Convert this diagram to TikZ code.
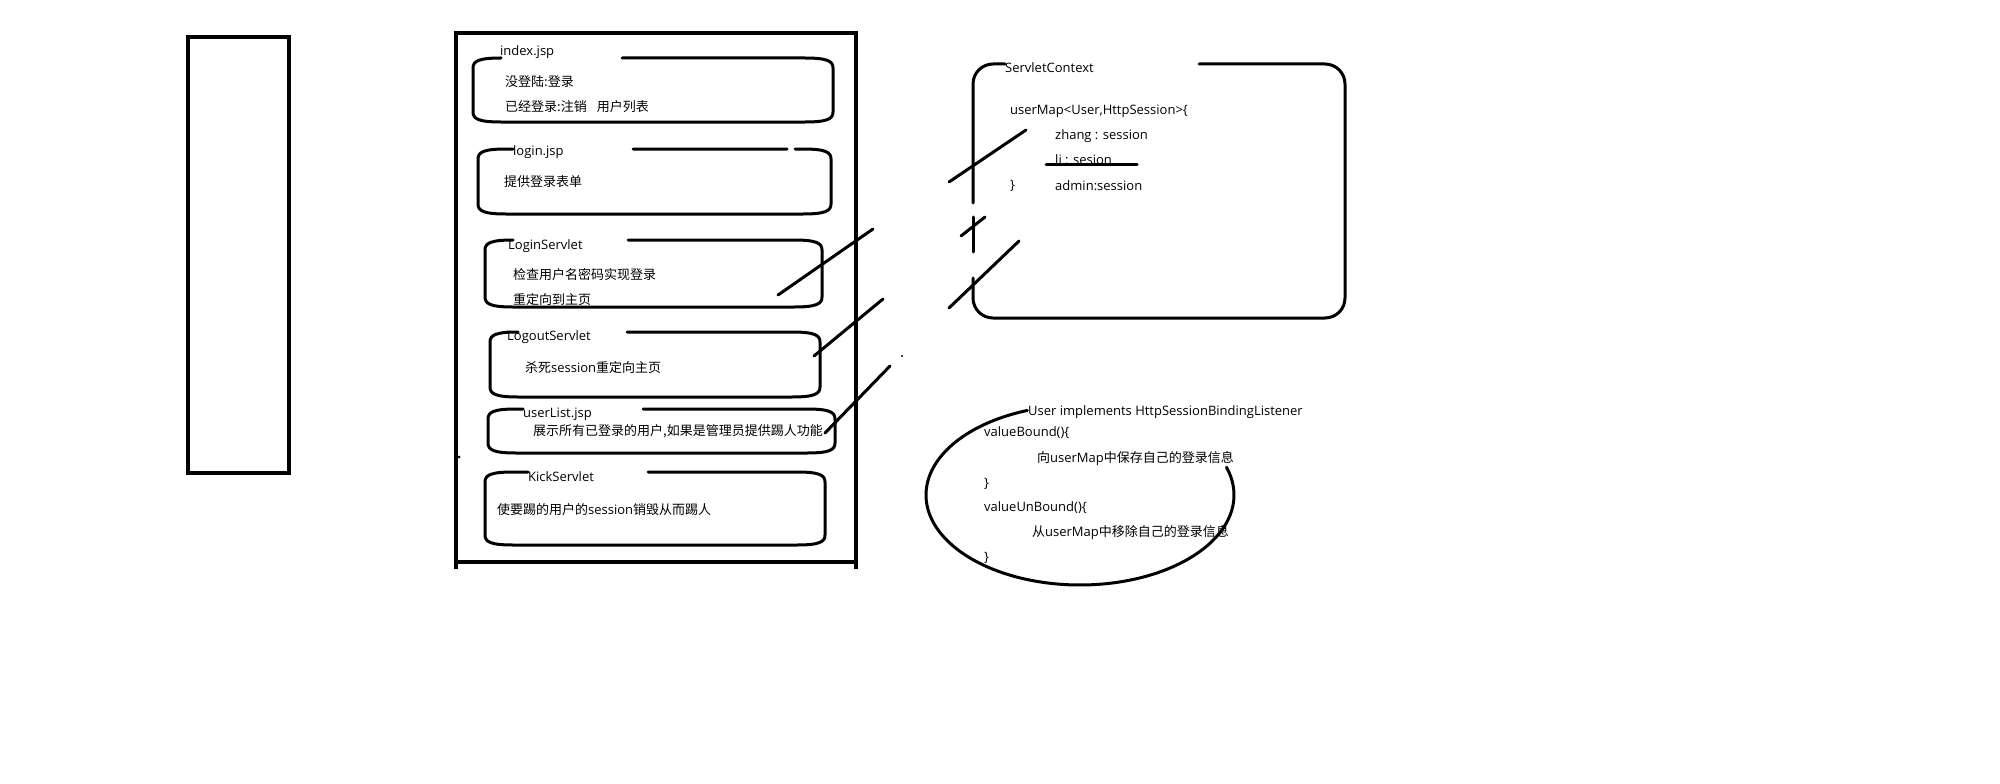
\documentclass[tikz,border=0pt]{standalone}
\usepackage{fontspec}
\setmainfont{Open Sans}
\newfontfamily\zhfont{Noto Sans CJK SC}
\newcommand{\zh}[1]{{\zhfont #1}}
\tikzset{
  sk diagram/.style={x=1pt, y=-1pt, font=\fontsize{13}{15}\selectfont,
    line cap=round, line join=round},
  sk line/.style={draw=black, line width=3pt},
  sk frame/.style={draw=black, line width=3.5pt, line cap=rect, line join=miter},
  sk text/.style={anchor=west, inner sep=0pt}
}
\begin{document}
\begin{tikzpicture}[sk diagram]
\useasboundingbox (0,0) rectangle (2000,784);
% left column and page frame
\draw[sk frame] (188,37) rectangle (289,473);
\draw[sk frame] (456,567) -- (456,33) -- (856,33) -- (856,567);
\draw[sk frame] (456,562) -- (853,562);
\fill (459,457) circle (1.5);
% the six pages / servlets
\foreach \l/\t/\r/\b/\lx/\gx/\ms/\me/\ty/\nm/\title in {
  473/58/833/122/500/622/700/700/52/index/index.jsp,
  478/149/831/214/513/633/787/795/152/login/login.jsp,
  485/240/822/307/508/628/700/700/246/lgin/LoginServlet,
  490/332/820/397/507/627/700/700/337/lgout/LogoutServlet,
  488/409/835/453/523/643/700/700/414/ulist/userList.jsp,
  485/472/825/545/528/648/700/700/477/kick/KickServlet}{
  \node[sk text] (\nm) at (\lx,\ty) {\title};
  \draw[sk line] (\lx,\t) -- (\l+28,\t)
    .. controls (\l+6,\t) and (\l,\t+3) .. (\l,\t+10) -- (\l,\b-10)
    .. controls (\l,\b-3) and (\l+6,\b) .. (\l+28,\b) -- (\r-28,\b)
    .. controls (\r-6,\b) and (\r,\b-3) .. (\r,\b-10) -- (\r,\t+10)
    .. controls (\r,\t+3) and (\r-6,\t) .. (\r-28,\t) -- (\me,\t)
    (\ms,\t) -- (\gx,\t);
}
\node[sk text] (idx1) at (505,82) {\zh{没登陆:登录}};
\node[sk text] (idx2) at (505,107) {\zh{已经登录:注销}\hspace{10pt}\zh{用户列表}};
\node[sk text] (login1) at (504,182) {\zh{提供登录表单}};
\node[sk text] (lgin1) at (513,275) {\zh{检查用户名密码实现登录}};
\node[sk text] (lgin2) at (513,300) {\zh{重定向到主页}};
\node[sk text] (lgout1) at (525,368) {\zh{杀死}session\zh{重定向主页}};
\node[sk text] (ulist1) at (533,431) {\zh{展示所有已登录的用户,如果是管理员提供踢人功能}};
\node[sk text] (kick1) at (497,510) {\zh{使要踢的用户的}session\zh{销毁从而踢人}};
% ServletContext
\node[sk text] (ctx) at (1005,68) {ServletContext};
\draw[sk line, rounded corners=20pt] (ctx.west |- 0,64) -- (973,64) -- (973,203);
\draw[sk line] (973,217) -- (973,252);
\draw[sk line, rounded corners=20pt] (973,278) -- (973,318) -- (1345,318)
  -- (1345,64) -- (1199,64);
\node[sk text] (umap) at (1010,111) {userMap<User,HttpSession>\{};
\node[sk text] (zhang) at (1055,136) {zhang : session};
\node[sk text] (li) at (1055,160) {li : sesion};
\node[sk text] (uclose) at (1010,186) {\}};
\node[sk text] (admin) at (1055,186) {admin:session};
\draw[sk line] (li.west |- 0,164) ++(-9,0) -- (1137,164);
% strokes from the servlets to the map
\coordinate (lginA) at (778,295);  \coordinate (lginB) at (873,229);
\coordinate (lgoutA) at (814,356); \coordinate (lgoutB) at (883,299);
\coordinate (ulistA) at (825,433); \coordinate (ulistB) at (890,366);
\coordinate (ctxA1) at (949,182);  \coordinate (ctxA2) at (1026,130);
\coordinate (ctxB1) at (961,236);  \coordinate (ctxB2) at (985,217);
\coordinate (ctxC1) at (949,308);  \coordinate (ctxC2) at (1019,241);
\draw[sk line] (lginA) -- (lginB);
\draw[sk line] (lgoutA) -- (lgoutB);
\draw[sk line] (ulistA) -- (ulistB);
\fill (902,356) circle (1.2);
\draw[sk line] (ctxA1) -- (ctxA2);
\draw[sk line] (ctxB1) -- (ctxB2);
\draw[sk line] (ctxC1) -- (ctxC2);
% User as listener
\node[sk text] (user) at (1028,412) {User implements HttpSessionBindingListener};
\draw[sk line] plot[domain=110:378, samples=80, smooth]
  ({1080+154*cos(\x)}, {495-90*sin(\x)});
\node[sk text] (vb) at (984,433) {valueBound()\{};
\node[sk text] (vb1) at (1037,459) {\zh{向}userMap\zh{中保存自己的登录信息}};
\node[sk text] (vbend) at (984,484) {\}};
\node[sk text] (vu) at (984,508) {valueUnBound()\{};
\node[sk text] (vu1) at (1032,533) {\zh{从}userMap\zh{中移除自己的登录信息}};
\node[sk text] (vuend) at (984,558) {\}};
\end{tikzpicture}
\end{document}
